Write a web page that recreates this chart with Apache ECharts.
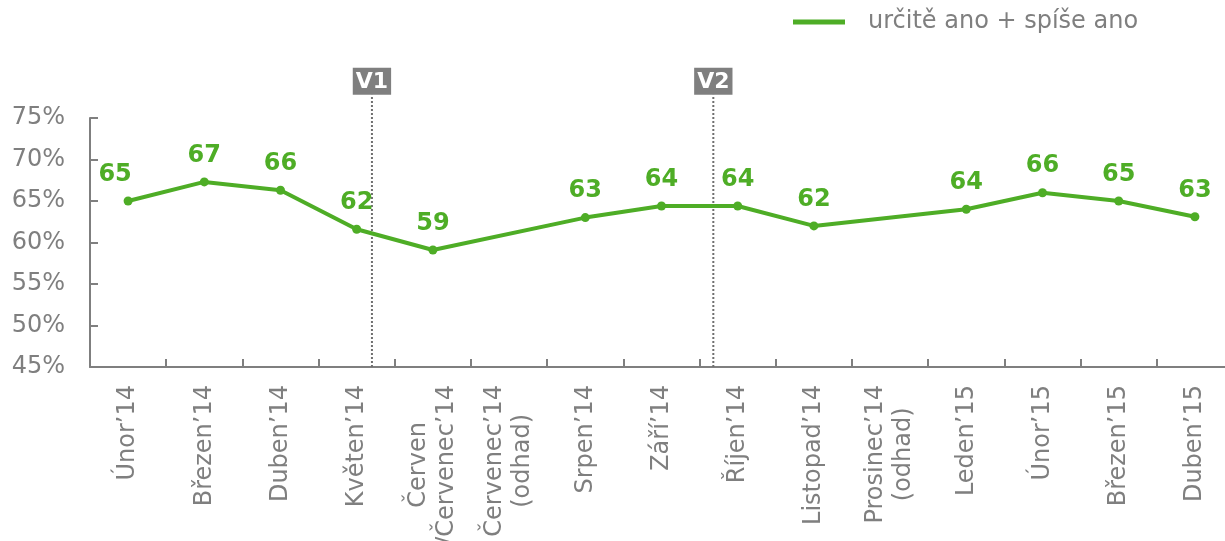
<!DOCTYPE html>
<html>
<head>
<meta charset="utf-8">
<script src="https://cdn.jsdelivr.net/npm/echarts@6/dist/echarts.min.js"></script>
<style>
html,body{margin:0;padding:0;background:#fff;}
#chart{width:1225px;height:541px;}
</style>
</head>
<body>
<div id="chart"></div>
<script>
var categories = [
  "Únor’14", "Březen’14", "Duben’14", "Květen’14", "Červen\n/Červenec’14",
  "Červenec’14\n(odhad)", "Srpen’14", "Září’14", "Říjen’14", "Listopad’14",
  "Prosinec’14\n(odhad)", "Leden’15", "Únor’15", "Březen’15", "Duben’15"
];
var seriesName = "určitě ano + spíše ano";
var values = [65.0, 67.3, 66.3, 61.6, 59.1, null, 63.0, 64.4, 64.4, 62.0, null, 64.0, 66.0, 65.0, 63.1];
var waveNames = ["V1", "V2"];
var wavePositions = [3.2, 7.68];
var yMin = 45, yMax = 75, yStep = 5;
var waveTop = 77.8;

var green = "#4ead26";
var gray = "#7f7f7f";
var font = "DejaVu Sans";

var chart = echarts.init(document.getElementById("chart"), null, {renderer: "canvas"});

var option = {
  animation: false,
  backgroundColor: "#fff",
  textStyle: {fontFamily: font},
  legend: {
    data: [seriesName],
    left: 793, top: 10,
    padding: 0,
    icon: "rect",
    itemWidth: 52, itemHeight: 5,
    itemGap: 10,
    textStyle: {color: gray, fontSize: 24, fontFamily: font, padding: [0, 0, 0, 18]}
  },
  grid: {left: 90, right: -8, top: 118, bottom: 174, containLabel: false, outerBoundsMode: "none"},
  xAxis: [{
    type: "category",
    data: categories,
    boundaryGap: true,
    axisLine: {show: true, onZero: false, lineStyle: {color: gray, width: 2}},
    axisTick: {show: true, interval: 0, inside: true, length: 8, lineStyle: {color: gray, width: 2}},
    axisLabel: {
      rotate: 90, margin: 18, color: gray, fontSize: 24, fontFamily: font,
      interval: 0, hideOverlap: false,
      formatter: function (v) {
        return v.split("\n").map(function (s) { return "{c|" + s + "}"; }).join("\n");
      },
      rich: {c: {align: "center", color: gray, fontSize: 24, fontFamily: font, lineHeight: 28}}
    }
  }, {
    type: "value", min: -0.5, max: 14.5, show: false
  }],
  yAxis: {
    type: "value", min: yMin, max: yMax, interval: yStep,
    axisLine: {show: true, onZero: false, lineStyle: {color: gray, width: 2}},
    axisTick: {show: true, inside: true, length: 8, lineStyle: {color: gray, width: 2}},
    splitLine: {show: false},
    axisLabel: {color: gray, fontSize: 24, fontFamily: font, margin: 25, formatter: "{value}%"}
  },
  series: [{
    name: seriesName,
    type: "line",
    data: values.map(function (v, i) {
      if (i === 0) return {value: v, label: {offset: [-13, 0]}};
      return v;
    }),
    connectNulls: true,
    symbol: "circle",
    symbolSize: 9,
    itemStyle: {color: green},
    lineStyle: {color: green, width: 4},
    label: {
      show: true, position: "top", distance: 10,
      color: green, fontSize: 24, fontWeight: "bold", fontFamily: font,
      formatter: function (p) { return Math.round(p.value); }
    },
    z: 3
  }, {
    name: "waves",
    type: "custom",
    xAxisIndex: 1,
    silent: true,
    clip: false,
    data: wavePositions.map(function (x, i) { return [x, i]; }),
    renderItem: function (params, api) {
      var x = api.value(0);
      var idx = api.value(1);
      var p0 = api.coord([x, yMin]);
      var p1 = api.coord([x, waveTop]);
      return {
        type: "group",
        children: [{
          type: "line",
          shape: {x1: p0[0], y1: p0[1], x2: p1[0], y2: p1[1]},
          style: {stroke: "#6f6f6f", lineWidth: 2, lineDash: [2, 2]}
        }, {
          type: "text",
          x: p1[0], y: p1[1],
          style: {
            text: waveNames[idx],
            fill: "#fff",
            font: "bold 22px '" + font + "'",
            align: "center",
            verticalAlign: "bottom",
            backgroundColor: gray,
            padding: [4, 3, 1, 3]
          }
        }]
      };
    },
    z: 2
  }]
};
chart.setOption(option);
</script>
</body>
</html>
